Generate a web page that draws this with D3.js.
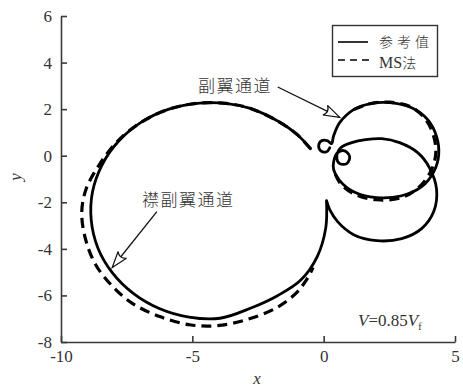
<!DOCTYPE html>
<html>
<head>
<meta charset="utf-8">
<script src="https://cdn.jsdelivr.net/npm/d3@7"></script>
<style>
  html, body { margin: 0; padding: 0; background: #fff; }
  svg { display: block; }
</style>
</head>
<body>
<svg id="chart" width="463" height="388"></svg>
<script>
// Axis ticks
const xTicks = [-10, -5, 0, 5];
const yTicks = [-8, -6, -4, -2, 0, 2, 4, 6];

// Flaperon channel trajectory, reference values [x, y]
const flaperonRef = [
  [-0.50, 0.30], [-1.02, 0.92], [-1.72, 1.47], [-2.79, 2.03], [-3.60, 2.23],
  [-4.73, 2.26], [-5.89, 2.00], [-6.94, 1.44], [-7.81, 0.62], [-8.44, -0.40],
  [-8.80, -1.55], [-8.85, -2.76], [-8.60, -3.95], [-8.05, -5.02], [-7.25, -5.91],
  [-6.26, -6.56], [-5.13, -6.93], [-3.95, -6.98], [-2.79, -6.55], [-1.74, -6.00],
  [-0.87, -5.34], [-0.24, -4.32], [0.08, -3.10], [0.11, -1.98]
];

// Flaperon channel trajectory, MS method
const flaperonMS = [
  [-0.50, 0.30], [-1.02, 0.92], [-1.72, 1.47], [-2.79, 2.03], [-3.60, 2.23],
  [-4.73, 2.26], [-5.89, 2.00], [-6.94, 1.44], [-7.85, 0.62], [-8.55, -0.40],
  [-9.05, -1.45], [-9.21, -2.45], [-9.06, -3.61], [-8.68, -4.68], [-8.03, -5.62],
  [-7.27, -6.35], [-6.24, -6.91], [-5.10, -7.26], [-4.07, -7.30], [-2.93, -7.04],
  [-1.79, -6.53], [-1.03, -5.88], [-0.65, -5.32], [-0.40, -4.80]
];

// Aileron channel trajectory, reference values [x, y]
const aileronRef = [
  [0.23, 0.34], [0.11, 0.17], [-0.11, 0.21], [-0.19, 0.43], [-0.08, 0.64],
  [0.15, 0.64], [0.30, 0.52], [0.38, 0.86], [0.61, 1.42], [1.14, 1.98],
  [1.75, 2.23], [2.51, 2.28], [3.35, 2.06], [3.96, 1.55], [4.30, 0.82],
  [4.38, 0.04], [4.19, -0.69], [3.73, -1.33], [2.97, -1.72], [2.02, -1.80],
  [1.14, -1.55], [0.61, -1.07], [0.38, -0.60], [0.38, -0.26], [0.53, 0.13],
  [0.80, 0.21], [0.99, -0.04], [0.88, -0.34], [0.61, -0.34], [0.50, -0.04],
  [0.65, 0.34], [1.07, 0.56], [1.60, 0.69], [2.21, 0.73], [2.89, 0.56],
  [3.58, 0.13], [4.03, -0.52], [4.30, -1.46], [4.19, -2.40], [3.73, -3.13],
  [2.97, -3.56], [2.02, -3.65], [1.14, -3.39], [0.53, -2.83], [0.23, -2.32],
  [0.11, -1.93]
];

// Aileron channel trajectory, MS method
const aileronMS = [
  [1.14, 1.98], [1.75, 2.23], [2.51, 2.30], [3.35, 2.08], [3.92, 1.50],
  [4.22, 0.70], [4.26, 0.00], [4.07, -0.69], [3.65, -1.33], [2.97, -1.80],
  [2.02, -1.89], [1.14, -1.63], [0.61, -1.15], [0.38, -0.60]
];

// Annotation arrows: [start, tip] in data units
const aileronArrow = [[-1.75, 2.95], [0.61, 1.65]];
const flaperonArrow = [[-6.35, -2.40], [-8.05, -4.80]];

const svg = d3.select("#chart");
const margin = { left: 61, top: 16, right: 8, bottom: 46 };
const W = 463, H = 388;

const x = d3.scaleLinear().domain([-10, 5]).range([margin.left, W - margin.right]);
const y = d3.scaleLinear().domain([-8, 6]).range([H - margin.bottom, margin.top]);

const axisColor = "#3a3a3a";
const serif = "'Liberation Serif', 'Times New Roman', serif";
const cjk = "'Noto Sans CJK SC', 'Noto Sans CJK JP', sans-serif";

// Axes with inward ticks; plain hyphen for negative labels
const fmt = d => String(d);
const gx = svg.append("g")
  .attr("transform", `translate(0,${y(-8)})`)
  .call(d3.axisBottom(x).tickValues(xTicks).tickFormat(fmt)
    .tickSizeInner(-6).tickSizeOuter(0).tickPadding(8));
const gy = svg.append("g")
  .attr("transform", `translate(${x(-10)},0)`)
  .call(d3.axisLeft(y).tickValues(yTicks).tickFormat(fmt)
    .tickSizeInner(-6).tickSizeOuter(0).tickPadding(9));

[gx, gy].forEach(g => {
  g.select(".domain").attr("stroke", axisColor).attr("stroke-width", 1.6);
  g.selectAll(".tick line").attr("stroke", axisColor).attr("stroke-width", 1.6);
  g.selectAll(".tick text")
    .attr("fill", "#333")
    .style("font-family", serif)
    .style("font-size", "17px");
});

// Axis titles
svg.append("text")
  .attr("x", (x(-10) + x(5)) / 2 - 1).attr("y", 384)
  .attr("text-anchor", "middle")
  .style("font-family", serif).style("font-style", "italic").style("font-size", "17px")
  .attr("fill", "#333").text("x");
svg.append("text")
  .attr("transform", `translate(21,${(y(-8) + y(6)) / 2 - 2}) rotate(-90)`)
  .attr("text-anchor", "middle")
  .style("font-family", serif).style("font-style", "italic").style("font-size", "17px")
  .attr("fill", "#333").text("y");

const line = d3.line().x(d => x(d[0])).y(d => y(d[1])).curve(d3.curveCatmullRom.alpha(0.5));

// Reference curves (solid)
[flaperonRef, aileronRef].forEach(pts => {
  svg.append("path").datum(pts).attr("d", line)
    .attr("fill", "none").attr("stroke", "#000").attr("stroke-width", 2.8)
    .attr("stroke-linecap", "round").attr("stroke-linejoin", "round");
});

// MS method curves (dashed)
[flaperonMS, aileronMS].forEach(pts => {
  svg.append("path").datum(pts).attr("d", line)
    .attr("fill", "none").attr("stroke", "#000").attr("stroke-width", 3.2)
    .attr("stroke-dasharray", "10,6");
});

// Annotation arrows
function arrow(seg) {
  const [p0, p1] = seg.map(d => [x(d[0]), y(d[1])]);
  svg.append("line")
    .attr("x1", p0[0]).attr("y1", p0[1]).attr("x2", p1[0]).attr("y2", p1[1])
    .attr("stroke", "#111").attr("stroke-width", 1.3);
  const ang = Math.atan2(p1[1] - p0[1], p1[0] - p0[0]);
  const len = 17, spread = 0.32, back = 11;
  const b1 = [p1[0] - len * Math.cos(ang - spread), p1[1] - len * Math.sin(ang - spread)];
  const b2 = [p1[0] - len * Math.cos(ang + spread), p1[1] - len * Math.sin(ang + spread)];
  const m = [p1[0] - back * Math.cos(ang), p1[1] - back * Math.sin(ang)];
  svg.append("path")
    .attr("d", `M${b1}L${p1}L${b2}Q${m} ${b1}Z`)
    .attr("fill", "#fff").attr("stroke", "#111").attr("stroke-width", 1.2)
    .attr("stroke-linejoin", "miter");
}
arrow(aileronArrow);
arrow(flaperonArrow);

// Annotation labels
svg.append("text").attr("x", 198).attr("y", 92)
  .style("font-family", cjk).style("font-size", "17px").style("font-weight", 300)
  .style("letter-spacing", "1.5px")
  .attr("fill", "#333").text("副翼通道");
svg.append("text").attr("x", 142).attr("y", 206)
  .style("font-family", cjk).style("font-size", "17px").style("font-weight", 300)
  .style("letter-spacing", "1.5px")
  .attr("fill", "#333").text("襟副翼通道");

// Speed label V = 0.85 V_f
const vt = svg.append("text").attr("x", 358).attr("y", 326)
  .style("font-family", serif).style("font-size", "17px").attr("fill", "#333");
vt.append("tspan").style("font-style", "italic").text("V");
vt.append("tspan").text("=0.85");
vt.append("tspan").style("font-style", "italic").text("V");
vt.append("tspan").attr("dy", 4).style("font-size", "10px").text("f");

// Legend
const lg = svg.append("g");
lg.append("rect").attr("x", 332.5).attr("y", 25.5).attr("width", 105).attr("height", 51)
  .attr("fill", "#fff").attr("stroke", "#333").attr("stroke-width", 1.4);
lg.append("line").attr("x1", 338).attr("x2", 368).attr("y1", 42).attr("y2", 42)
  .attr("stroke", "#000").attr("stroke-width", 1.6);
lg.append("line").attr("x1", 338).attr("x2", 369).attr("y1", 60).attr("y2", 60)
  .attr("stroke", "#000").attr("stroke-width", 1.6).attr("stroke-dasharray", "7,5");
lg.append("text").attr("x", 379).attr("y", 46.5)
  .style("font-family", cjk).style("font-size", "14px").style("font-weight", 300)
  .style("letter-spacing", "4px")
  .attr("fill", "#333").text("参考值");
const ms = lg.append("text").attr("x", 379).attr("y", 67.5).attr("fill", "#333").style("font-size", "16px");
ms.append("tspan").style("font-family", serif).text("MS");
ms.append("tspan").style("font-family", cjk).style("font-weight", 300).style("font-size", "14px").text("法");
</script>
</body>
</html>
